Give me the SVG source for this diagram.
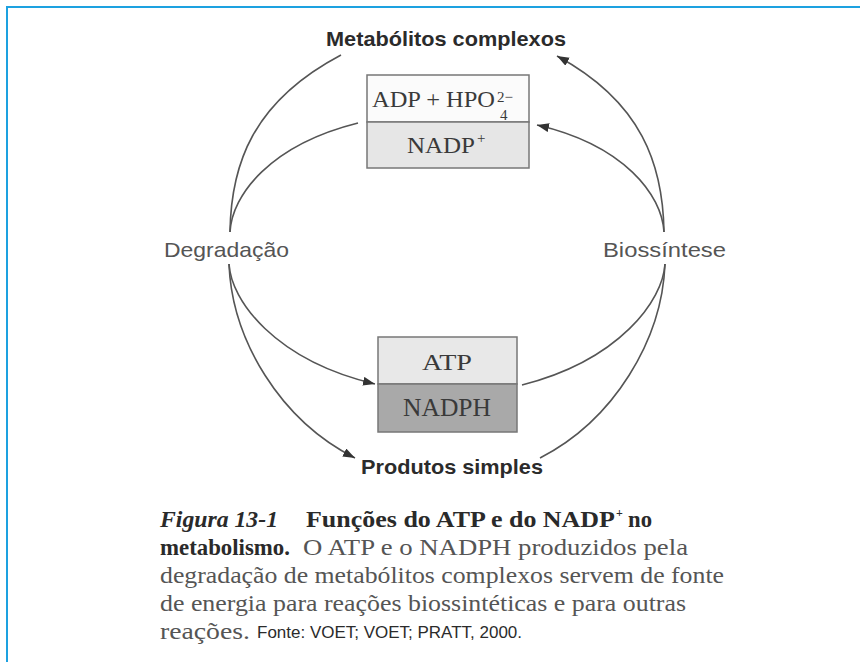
<svg xmlns="http://www.w3.org/2000/svg" width="860" height="662" viewBox="0 0 860 662">
  <defs>
    <marker id="arr" markerUnits="userSpaceOnUse" markerWidth="13" markerHeight="10" refX="12" refY="4.5" orient="auto">
      <path d="M0,0 L12,4.5 L0,9 z" fill="#333"/>
    </marker>
    <style>
      .sans { font-family: "Liberation Sans", Arial, sans-serif; fill: #2b2b2b; }
      .lbl { font-size: 21px; fill: #555; }
      .hdr { font-size: 21px; font-weight: bold; }
      .serif { font-family: "Liberation Serif", "Times New Roman", serif; fill: #3a3a3a; }
      .box { stroke: #777; stroke-width: 1.5; }
      .conn path { fill: none; stroke: #555; stroke-width: 1.6; }
      .cap { font-family: "Liberation Serif", "Times New Roman", serif; font-size: 23px; fill: #555; }
      .capb { font-weight: bold; fill: #2a2a2a; }
      .sup { font-size: 12px; }
    </style>
  </defs>
  <rect width="860" height="662" fill="#fff"/>
  <g id="frame">
    <line x1="6" y1="7" x2="860" y2="7" stroke="#1da1e0" stroke-width="2"/>
    <line x1="7" y1="7" x2="7" y2="662" stroke="#1da1e0" stroke-width="2"/>
  </g>

  <g id="connectors" class="conn">
    <path d="M230,232 C231,165 252,102 341,55"/>
    <path d="M230,232 C232,195 270,145 358,123"/>
    <path d="M664,232 C663,165 642,102 557,56" marker-end="url(#arr)"/>
    <path d="M664,232 C662,195 624,145 537,125" marker-end="url(#arr)"/>
    <path d="M229,264 C231,300 274,360 375,384" marker-end="url(#arr)"/>
    <path d="M229,264 C232,340 280,420 355,458" marker-end="url(#arr)"/>
    <path d="M665,264 C663,300 620,360 522,385"/>
    <path d="M665,264 C662,340 614,420 540,458"/>
  </g>

  <g id="metabolitos-complexos">
    <text class="sans hdr" x="446" y="46" text-anchor="middle" textLength="240" lengthAdjust="spacingAndGlyphs">Metabólitos complexos</text>
  </g>

  <g id="box-top">
    <rect class="box" x="367" y="75" width="162" height="47" fill="#fbfbfb"/>
    <rect class="box" x="367" y="122" width="162" height="46" fill="#e6e6e6"/>
    <text class="serif" x="372" y="107" font-size="24" textLength="123" lengthAdjust="spacingAndGlyphs">ADP + HPO</text>
    <text class="serif" x="497" y="102" font-size="15">2−</text>
    <text class="serif" x="500" y="120" font-size="15">4</text>
    <text class="serif" x="407" y="153" font-size="24" textLength="68" lengthAdjust="spacingAndGlyphs">NADP</text>
    <text class="serif" x="477" y="143" font-size="15">+</text>
  </g>

  <g id="box-bottom">
    <rect class="box" x="378" y="337" width="139" height="47" fill="#e8e8e8"/>
    <rect class="box" x="378" y="384" width="139" height="48" fill="#a9a9a9"/>
    <text class="serif" x="447" y="370" font-size="24" text-anchor="middle" textLength="50" lengthAdjust="spacingAndGlyphs">ATP</text>
    <text class="serif" x="447" y="416" font-size="25" text-anchor="middle" textLength="88" lengthAdjust="spacingAndGlyphs">NADPH</text>
  </g>

  <g id="degradacao">
    <text class="sans lbl" x="164" y="257" textLength="125" lengthAdjust="spacingAndGlyphs">Degradação</text>
  </g>
  <g id="biossintese">
    <text class="sans lbl" x="603" y="257" textLength="123" lengthAdjust="spacingAndGlyphs">Biossíntese</text>
  </g>

  <g id="produtos-simples">
    <text class="sans hdr" x="361" y="474" textLength="182" lengthAdjust="spacingAndGlyphs">Produtos simples</text>
  </g>

  <g id="caption">
    <text class="cap capb" x="160" y="527" font-style="italic" textLength="118" lengthAdjust="spacingAndGlyphs">Figura 13-1</text>
    <text class="cap capb" x="306" y="527" textLength="309" lengthAdjust="spacingAndGlyphs">Funções do ATP e do NADP</text>
    <text class="cap capb sup" x="616" y="517">+</text>
    <text class="cap capb" x="628" y="527" textLength="24" lengthAdjust="spacingAndGlyphs">no</text>
    <text class="cap capb" x="160" y="555" textLength="130" lengthAdjust="spacingAndGlyphs">metabolismo.</text>
    <text class="cap" x="303" y="555" textLength="385" lengthAdjust="spacingAndGlyphs">O ATP e o NADPH produzidos pela</text>
    <text class="cap" x="160" y="583" textLength="564" lengthAdjust="spacingAndGlyphs">degradação de metabólitos complexos servem de fonte</text>
    <text class="cap" x="160" y="611" textLength="526" lengthAdjust="spacingAndGlyphs">de energia para reações biossintéticas e para outras</text>
    <text class="cap" x="160" y="639" textLength="90" lengthAdjust="spacingAndGlyphs">reações.</text>
    <text class="sans" x="257" y="638" font-size="16" textLength="265" lengthAdjust="spacingAndGlyphs">Fonte: VOET; VOET; PRATT, 2000.</text>
  </g>
</svg>
